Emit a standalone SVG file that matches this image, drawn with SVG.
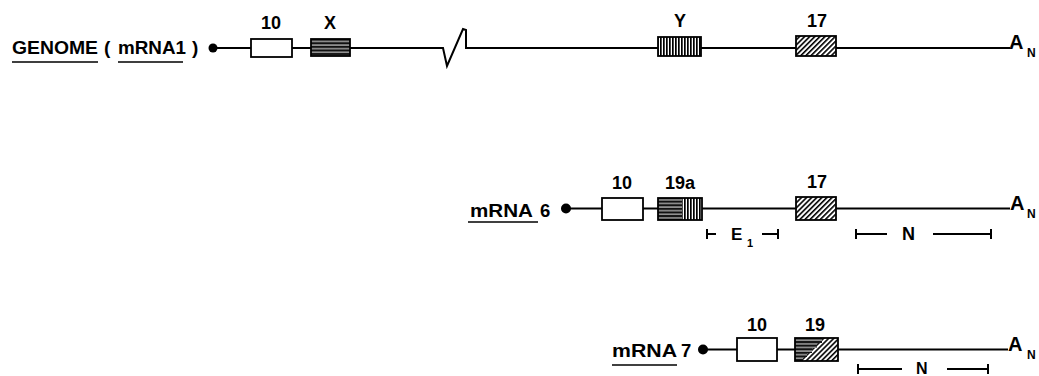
<svg xmlns="http://www.w3.org/2000/svg" width="1039" height="376" viewBox="0 0 1039 376">
<style>
  text { font-family: "Liberation Sans", Arial, sans-serif; font-weight: bold; fill: #000; }
  .lbl { font-size: 18px; text-anchor: middle; }
  .name { font-size: 19px; }
  .a { font-size: 20px; }
  .sub { font-size: 12px; }
  .ln { stroke: #000; stroke-width: 2; fill: none; }
  .ul { stroke: #000; stroke-width: 1.6; fill: none; }
  .box { stroke: #000; stroke-width: 1.8; }
  .open { fill: #fff; }
  .hz { fill: url(#hz); }
  .vt { fill: url(#vt); }
  .dg { fill: url(#dg); }
</style>
<defs>
  <pattern id="hz" patternUnits="userSpaceOnUse" width="4" height="3.6">
    <rect width="4" height="3.6" fill="#111"/>
    <rect y="1.4" width="4" height="0.9" fill="#fff"/>
  </pattern>
  <pattern id="vt" patternUnits="userSpaceOnUse" width="3" height="4">
    <rect width="3" height="4" fill="#fff"/>
    <rect width="1.7" height="4" fill="#000"/>
  </pattern>
  <pattern id="dg" patternUnits="userSpaceOnUse" width="3.6" height="4" patternTransform="rotate(45)">
    <rect width="3.6" height="4" fill="#fff"/>
    <rect width="1.6" height="4" fill="#000"/>
  </pattern>
</defs>
<rect width="1039" height="376" fill="#fff"/>

<g id="connectors">
  <path class="ln" d="M213,48 H443 L447,66 L463,29 L466,30 V48 H1010"/>
  <path class="ln" d="M566,208.5 H1010"/>
  <path class="ln" d="M703,349.5 H1008"/>
  <path class="ln" d="M707,229 V239 M707,234 H716 M762,234 H778 M778,229 V239"/>
  <path class="ln" d="M856,229 V239 M856,234 H887 M933,234 H991 M991,229 V239"/>
  <path class="ln" d="M858,364 V374 M858,369 H902 M947,369 H988 M988,364 V374"/>
</g>

<g id="genome">
  <text class="name" x="12" y="54" textLength="86" lengthAdjust="spacingAndGlyphs">GENOME</text>
  <text class="name" x="104" y="54">(</text>
  <text class="name" x="118" y="54" textLength="68" lengthAdjust="spacingAndGlyphs">mRNA1</text>
  <text class="name" x="192" y="54">)</text>
  <path class="ul" d="M12,62 H98 M118,62 H183"/>
  <circle cx="213" cy="48" r="4.5" fill="#000"/>
  <g id="g-10"><rect class="box open" x="251" y="39" width="41" height="18"/><text class="lbl" x="271" y="29">10</text></g>
  <g id="g-X"><rect class="box hz" x="311" y="39" width="39" height="17"/><text class="lbl" x="330" y="29">X</text></g>
  <g id="g-Y"><rect class="box vt" x="658" y="37" width="43" height="19"/><text class="lbl" x="680" y="27">Y</text></g>
  <g id="g-17"><rect class="box dg" x="796" y="36" width="40" height="20"/><text class="lbl" x="817" y="27">17</text></g>
  <text class="a" x="1009" y="49">A</text>
  <text class="sub" x="1027" y="57">N</text>
</g>

<g id="mrna6">
  <text class="name" x="470" y="217" textLength="63" lengthAdjust="spacingAndGlyphs" style="font-size:18.5px">mRNA</text>
  <text class="name" x="540" y="217" style="font-size:18.5px">6</text>
  <path class="ul" d="M468,222 H538"/>
  <circle cx="566" cy="208.5" r="5" fill="#000"/>
  <g id="m6-10"><rect class="box open" x="602" y="198" width="41" height="22"/><text class="lbl" x="622" y="189">10</text></g>
  <g id="m6-19a">
    <rect x="658" y="198" width="24" height="22" class="hz"/>
    <rect x="682" y="198" width="20" height="22" class="vt"/>
    <rect class="box" x="658" y="198" width="44" height="22" fill="none"/>
    <text class="lbl" x="680" y="189">19a</text>
  </g>
  <g id="m6-17"><rect class="box dg" x="796" y="197" width="40" height="23"/><text class="lbl" x="817" y="188">17</text></g>
  <text class="a" x="1010" y="210">A</text>
  <text class="sub" x="1027" y="218">N</text>
  <g id="m6-E1">
    <text x="731" y="240" style="font-size:17px">E</text>
    <text x="747" y="247" style="font-size:11px">1</text>
  </g>
  <text x="902" y="240" style="font-size:18px">N</text>
</g>

<g id="mrna7">
  <text class="name" x="612" y="357" textLength="65" lengthAdjust="spacingAndGlyphs" style="font-size:18.5px">mRNA</text>
  <text class="name" x="681" y="357" style="font-size:18.5px">7</text>
  <path class="ul" d="M612,365 H677"/>
  <circle cx="703" cy="349.5" r="5" fill="#000"/>
  <g id="m7-10"><rect class="box open" x="737" y="338" width="40" height="23"/><text class="lbl" x="757" y="331">10</text></g>
  <g id="m7-19">
    <rect x="795" y="338" width="43" height="23" class="dg"/>
    <polygon class="hz" points="795,338 822,338 822,343 817,343 817,348 812,348 812,353 807,353 807,357 803,357 803,361 795,361"/>
    <rect class="box" x="795" y="338" width="43" height="23" fill="none"/>
    <text class="lbl" x="815" y="331">19</text>
  </g>
  <text class="a" x="1008" y="351">A</text>
  <text class="sub" x="1027" y="359">N</text>
  <text x="916" y="374" style="font-size:16px">N</text>
</g>
</svg>
